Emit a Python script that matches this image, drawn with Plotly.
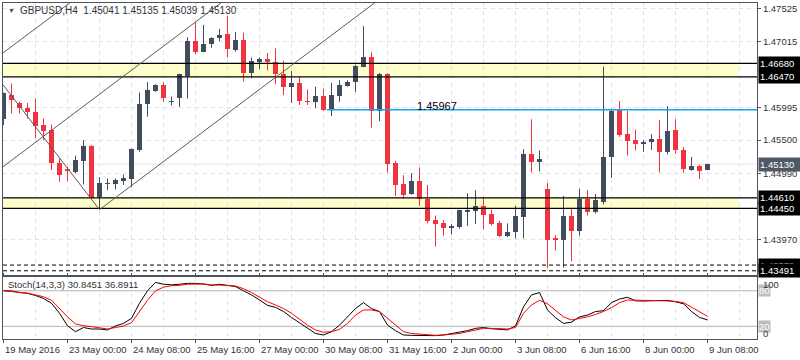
import plotly.graph_objects as go

# ---------------- data ----------------
opens = [1.4583, 1.4619, 1.4607, 1.4599, 1.4593, 1.4573, 1.4566, 1.4514, 1.4506, 1.4501,
         1.4518, 1.4541, 1.4463, 1.4483, 1.4483, 1.4488, 1.4490, 1.4535, 1.4605, 1.4626,
         1.4635, 1.4609, 1.4614, 1.4648, 1.4702, 1.4686, 1.4697, 1.4707, 1.4713, 1.4688,
         1.4704, 1.4653, 1.4670, 1.4675, 1.4670, 1.4651, 1.4632, 1.4638, 1.4610, 1.4609,
         1.4618, 1.4597, 1.4618, 1.4633, 1.4640, 1.4663, 1.4677, 1.4594, 1.4652, 1.4514,
         1.4482, 1.4467, 1.4487, 1.4460, 1.4427, 1.4422, 1.4415, 1.4417, 1.4440, 1.4441,
         1.4449, 1.4436, 1.4422, 1.4403, 1.4408, 1.4432, 1.4529, 1.4517, 1.4475, 1.4398,
         1.4396, 1.4433, 1.4410, 1.4460, 1.4440, 1.4455, 1.4524, 1.4596, 1.4559, 1.4550,
         1.4545, 1.4547, 1.4552, 1.4532, 1.4566, 1.4535, 1.4504, 1.4510, 1.45041]
highs = [1.4623, 1.4637, 1.4609, 1.4607, 1.4614, 1.4583, 1.4574, 1.4522, 1.4509, 1.4526,
         1.4550, 1.4542, 1.4493, 1.4491, 1.4491, 1.4497, 1.4537, 1.4623, 1.4639, 1.4636,
         1.4639, 1.4617, 1.4652, 1.4708, 1.4731, 1.4727, 1.4708, 1.4721, 1.4741, 1.4716,
         1.4715, 1.4677, 1.4677, 1.4684, 1.4691, 1.4672, 1.4656, 1.4647, 1.4628, 1.4632,
         1.4629, 1.4638, 1.4642, 1.4642, 1.4666, 1.4725, 1.4685, 1.4653, 1.4653, 1.4518,
         1.4496, 1.4499, 1.4508, 1.4481, 1.4434, 1.4427, 1.4421, 1.4443, 1.4468, 1.4473,
         1.4462, 1.4443, 1.4426, 1.4422, 1.4449, 1.4536, 1.4582, 1.4534, 1.4484, 1.4404,
         1.4464, 1.4446, 1.4475, 1.4473, 1.4467, 1.4663, 1.4596, 1.4610, 1.4595, 1.4566,
         1.4550, 1.4559, 1.4581, 1.4602, 1.4582, 1.4539, 1.4524, 1.4512, 1.45135]
lows = [1.4573, 1.4591, 1.4591, 1.4583, 1.4553, 1.4550, 1.4504, 1.4486, 1.4487, 1.4499,
        1.4482, 1.4460, 1.4444, 1.4473, 1.4474, 1.4481, 1.4478, 1.4532, 1.4586, 1.4624,
        1.4609, 1.4603, 1.4601, 1.4614, 1.4682, 1.4685, 1.4692, 1.4702, 1.4677, 1.4686,
        1.4640, 1.4645, 1.4659, 1.4657, 1.4636, 1.4619, 1.4607, 1.4604, 1.4604, 1.4599,
        1.4595, 1.4587, 1.4609, 1.4632, 1.4624, 1.4662, 1.4569, 1.4579, 1.4500, 1.4464,
        1.4460, 1.4466, 1.4449, 1.4422, 1.4386, 1.4403, 1.4405, 1.4414, 1.4418, 1.4421,
        1.4413, 1.4419, 1.4401, 1.4401, 1.4399, 1.4399, 1.4500, 1.4502, 1.4353, 1.4380,
        1.4354, 1.4364, 1.4403, 1.4434, 1.4437, 1.4451, 1.4492, 1.4555, 1.4526, 1.4534,
        1.4532, 1.4535, 1.4500, 1.4528, 1.4529, 1.4500, 1.4503, 1.4490, 1.45039]
closes = [1.4622, 1.4611, 1.4599, 1.4593, 1.4572, 1.4564, 1.4514, 1.4497, 1.4502, 1.4519,
          1.4541, 1.4461, 1.4484, 1.4484, 1.4489, 1.4491, 1.4536, 1.4605, 1.4627, 1.4635,
          1.4614, 1.4610, 1.4651, 1.4702, 1.4686, 1.4697, 1.4707, 1.4712, 1.4690, 1.4704,
          1.4653, 1.4672, 1.4675, 1.4670, 1.4651, 1.4632, 1.4638, 1.4610, 1.4609, 1.4618,
          1.4596, 1.4619, 1.4635, 1.4640, 1.4664, 1.4677, 1.4594, 1.4652, 1.4513, 1.4481,
          1.4466, 1.4487, 1.4460, 1.4426, 1.4421, 1.4415, 1.4418, 1.4443, 1.4443, 1.4449,
          1.4435, 1.4421, 1.4403, 1.4408, 1.4433, 1.4529, 1.4517, 1.4521, 1.4396, 1.4397,
          1.4433, 1.4410, 1.4460, 1.4440, 1.4458, 1.4524, 1.4595, 1.4558, 1.4549, 1.4544,
          1.4547, 1.4552, 1.4532, 1.4564, 1.4534, 1.4505, 1.4510, 1.4503, 1.45130]

stoch_k = [80, 79.6, 77, 75.6, 72, 67, 59, 42, 21, 11, 18, 15.5, 15.5, 14, 20.6, 25, 33.5, 59, 80, 94,
           91, 90, 91, 92.5, 92.5, 91.4, 89, 91, 89, 87, 80, 73, 64.5, 55.4, 52, 45, 35, 26, 16.6, 8,
           5.4, 11, 22, 36, 50, 60, 50, 45, 22, 12.7, 5.4, 4.8, 4.3, 3.7, 4.3, 5.4, 8, 9.3, 12.7, 16.6,
           18, 16, 15, 14, 20.6, 53, 73, 77, 47.6, 34.6, 25, 27, 36, 39, 45, 46.4, 60, 66, 69, 63,
           62.7, 62.7, 62.7, 63.8, 61.5, 58, 45, 35, 30.8451]
stoch_d = [80, 79, 77, 76, 73, 70, 64, 50, 36, 24, 21, 19.5, 18, 15.5, 18, 20.6, 26, 45, 64, 80,
           86, 88.6, 89, 91, 91.4, 91.4, 90, 90, 89, 88, 83.5, 77, 69, 61.5, 56, 50, 42, 32, 22, 14,
           10, 11, 15, 25, 39, 47.6, 47.6, 45, 33.5, 22, 11, 8, 6.5, 5.4, 4.8, 5.4, 7, 8, 11, 14,
           16.6, 16.6, 16, 15.5, 18, 42, 56, 64, 58, 47.6, 36, 30.7, 33, 36, 40, 45, 51.5, 60, 64.4, 64.4,
           63.8, 63.3, 63.3, 62.7, 62, 60, 52, 44, 36.8911]

time_tick_bars = [0, 8, 16, 24, 32, 40, 48, 56, 64, 72, 80, 88]
time_tick_labels = ["19 May 2016", "23 May 00:00", "24 May 08:00", "25 May 16:00",
                    "27 May 00:00", "30 May 08:00", "31 May 16:00", "2 Jun 00:00",
                    "3 Jun 08:00", "6 Jun 16:00", "8 Jun 00:00", "9 Jun 08:00"]
grid_minor_bars = [4, 12, 20, 28, 36, 44, 52, 60, 68, 76, 84, 92]

price_ticks = [1.47525, 1.47015, 1.45995, 1.45500, 1.44990, 1.43970]
price_tick_text = ["1.47525", "1.47015", "1.45995", "1.45500", "1.44990", "1.43970"]

zones = [(1.4647, 1.4668), (1.4445, 1.4461)]
zone_end_bar = 91.9
level_lines = [1.4668, 1.4647, 1.4461, 1.4445]
dashed_levels = [1.43579, 1.43491]
blue_level = 1.45967
blue_start_bar = 40.4
blue_label_bar = 51.4
bid_price = 1.45130

trendlines = [((-0.06, 1.4684), (8.3, 1.4761)),
              ((-0.06, 1.4509), (27.2, 1.4761)),
              ((12.0, 1.4443), (46.4, 1.4761)),
              ((-0.06, 1.4635), (12.0, 1.4443))]

title_text = "GBPUSD,H4  1.45041 1.45135 1.45039 1.45130"
stoch_title = "Stoch(14,3,3) 30.8451 36.8911"

# ---------------- styling ----------------
BULL = "#414c5c"
BEAR = "#f0343f"
FRAME = "#4a5561"
GRID = "#e2e2e2"
FONT = "Liberation Sans, Arial, sans-serif"
TXT = "#333333"

n = len(opens)
xs = list(range(n))
X_RANGE = [-0.0625, 94.1875]
Y_RANGE = [1.43426, 1.47607]
S_RANGE = [-1.35, 103.2]

fig = go.Figure()

# wicks
for bull in (True, False):
    wx, wy = [], []
    for i in xs:
        if (closes[i] >= opens[i]) == bull:
            wx += [i, i, None]
            wy += [lows[i], highs[i], None]
    fig.add_trace(go.Scatter(x=wx, y=wy, mode="lines",
                             line=dict(color=BULL if bull else BEAR, width=1),
                             hoverinfo="skip", showlegend=False))

# bodies
bases = [min(o, c) for o, c in zip(opens, closes)]
heights = [max(abs(c - o), 0.00009) for o, c in zip(opens, closes)]
colors = [BULL if c >= o else BEAR for o, c in zip(opens, closes)]
fig.add_trace(go.Bar(x=xs, y=heights, base=bases, width=0.625,
                     marker=dict(color=colors, line=dict(width=0)),
                     hoverinfo="skip", showlegend=False))

# stochastic
fig.add_trace(go.Scatter(x=xs, y=stoch_k, yaxis="y2", mode="lines",
                         line=dict(color="#000000", width=1), hoverinfo="skip", showlegend=False))
fig.add_trace(go.Scatter(x=xs, y=stoch_d, yaxis="y2", mode="lines",
                         line=dict(color="#ff0000", width=1), hoverinfo="skip", showlegend=False))

shapes = []
shapes.append(dict(type="line", xref="paper", x0=0, x1=1, yref="y", y0=bid_price, y1=bid_price,
                   line=dict(color="#e6e6e6", width=1), layer="below"))
for lo, hi in zones:
    shapes.append(dict(type="rect", xref="x", x0=X_RANGE[0], x1=zone_end_bar, yref="y", y0=lo, y1=hi,
                       fillcolor="#ffffcc", line=dict(width=0), layer="below"))
for lv in level_lines:
    shapes.append(dict(type="line", xref="paper", x0=0, x1=1, yref="y", y0=lv, y1=lv,
                       line=dict(color="#000000", width=1.3)))
for lv in dashed_levels:
    shapes.append(dict(type="line", xref="paper", x0=0, x1=1, yref="y", y0=lv, y1=lv,
                       line=dict(color="#000000", width=1, dash="4px,3px")))
shapes.append(dict(type="line", xref="x", x0=blue_start_bar, x1=X_RANGE[1], yref="y",
                   y0=blue_level, y1=blue_level, line=dict(color="#12a4ea", width=1.5)))
for (ax0, ay0), (ax1, ay1) in trendlines:
    shapes.append(dict(type="line", xref="x", x0=ax0, x1=ax1, yref="y", y0=ay0, y1=ay1,
                       line=dict(color="#5a5a5a", width=1)))
for lv in (80, 20):
    shapes.append(dict(type="line", xref="paper", x0=0, x1=1, yref="y2", y0=lv, y1=lv,
                       line=dict(color="#b4b4b4", width=1), layer="below"))

ann = []
for b, t in zip(time_tick_bars, time_tick_labels):
    ann.append(dict(xref="x", x=b, xanchor="left", xshift=-1, yref="paper", y=-0.0298,
                    yanchor="middle", text=t, showarrow=False,
                    font=dict(family=FONT, size=9.5, color=TXT)))


def box(y, text, bg, fg="#ffffff", yref="y"):
    return dict(xref="paper", x=1, xanchor="left", xshift=1, yref=yref, y=y, yanchor="middle",
                text=text, showarrow=False, bgcolor=bg, borderpad=1, width=39, align="left",
                font=dict(family=FONT, size=9.5, color=fg))


for lv, t in [(1.4668, "1.46680"), (1.4647, "1.46470"), (1.4461, "1.44610"),
              (1.4445, "1.44450"), (1.43579, "1.43579"), (1.43491, "1.43491")]:
    ann.append(box(lv, t, "#000000"))
ann.append(box(bid_price, "1.45130", "#4f5966"))
ann.append(dict(xref="paper", x=1, xanchor="left", xshift=1, yref="y2", y=80, yanchor="middle",
                text="80", showarrow=False, bgcolor="#bdbdbd", borderpad=0,
                font=dict(family=FONT, size=9.5, color="#ffffff")))
ann.append(dict(xref="paper", x=1, xanchor="left", xshift=1, yref="y2", y=20, yanchor="middle",
                text="20", showarrow=False, bgcolor="#bdbdbd", borderpad=0,
                font=dict(family=FONT, size=9.5, color="#ffffff")))
ann.append(dict(xref="paper", x=1, xanchor="left", xshift=4, yref="paper", y=(339 - 284) / 336,
                yanchor="middle", text="100", showarrow=False,
                font=dict(family=FONT, size=9.5, color=TXT)))
ann.append(dict(xref="paper", x=1, xanchor="left", xshift=4, yref="paper", y=(339 - 333) / 336,
                yanchor="middle", text="0", showarrow=False,
                font=dict(family=FONT, size=9.5, color=TXT)))
ann.append(dict(xref="x", x=blue_label_bar, xanchor="left", yref="y", y=blue_level, yanchor="bottom",
                yshift=-4, text="1.45967", showarrow=False,
                font=dict(family=FONT, size=11, color="#000000")))
ann.append(dict(xref="paper", x=(11 - 3) / 754, xanchor="center", yref="paper", y=(339 - 10) / 336,
                yanchor="middle", text="▼", showarrow=False,
                font=dict(family=FONT, size=7, color="#4a5561")))
ann.append(dict(xref="paper", x=(18 - 3) / 754, xanchor="left", yref="paper", y=(339 - 10) / 336,
                yanchor="middle", text=title_text, showarrow=False,
                font=dict(family=FONT, size=10, color=TXT)))
ann.append(dict(xref="paper", x=(6 - 3) / 754, xanchor="left", yref="paper", y=(339 - 284) / 336,
                yanchor="middle", text=stoch_title, showarrow=False,
                font=dict(family=FONT, size=9.5, color=TXT)))

fig.update_layout(
    width=800, height=360,
    margin=dict(l=3, r=43, t=3, b=21),
    paper_bgcolor="#ffffff", plot_bgcolor="#ffffff",
    showlegend=False, bargap=0,
    font=dict(family=FONT, size=9.5, color=TXT),
    xaxis=dict(range=X_RANGE, anchor="y2", tickmode="array", tickvals=time_tick_bars,
               ticktext=[""] * len(time_tick_bars), ticks="outside", ticklen=3,
               tickcolor=FRAME, showgrid=True, gridcolor=GRID, griddash="4px,4px",
               minor=dict(tickmode="array", tickvals=grid_minor_bars, showgrid=True,
                          gridcolor=GRID, griddash="4px,4px", ticks=""),
               showline=True, linecolor=FRAME, linewidth=1, mirror="all", zeroline=False,
               automargin=False, fixedrange=True),
    yaxis=dict(domain=[(339 - 275) / 336, 1], range=Y_RANGE, side="right", anchor="x",
               tickmode="array", tickvals=price_ticks, ticktext=price_tick_text,
               ticks="outside", ticklen=3, tickcolor=FRAME,
               tickfont=dict(family=FONT, size=9.5, color=TXT),
               showgrid=True, gridcolor=GRID, griddash="4px,4px", automargin=False,
               showline=True, linecolor=FRAME, linewidth=1, mirror=True, zeroline=False),
    yaxis2=dict(domain=[0, (339 - 277) / 336], range=S_RANGE, side="right", anchor="x",
                showticklabels=False, ticks="", showgrid=False, automargin=False,
                showline=True, linecolor=FRAME, linewidth=1, mirror=True, zeroline=False),
    shapes=shapes, annotations=ann,
)

fig.write_html("out.html", config={"displayModeBar": False},
               post_script="document.body.style.margin='0';document.body.style.padding='0';")
